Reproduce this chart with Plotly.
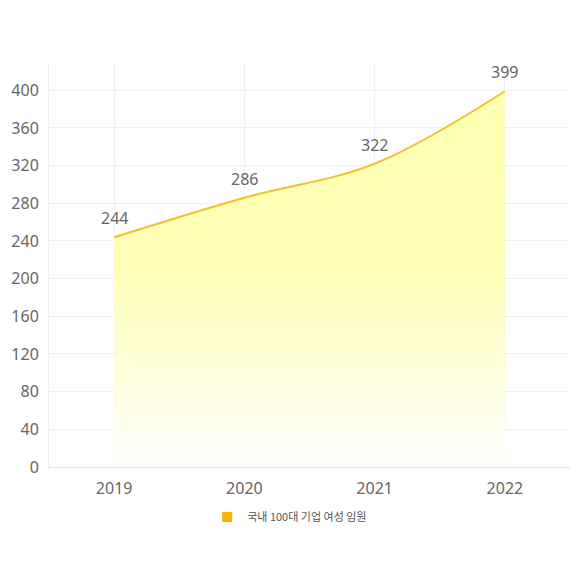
import plotly.graph_objects as go

years = ["2019", "2020", "2021", "2022"]
executives = [244, 286, 322, 399]
series_name = "국내 100대 기업 여성 임원"
y_ticks = [0, 40, 80, 120, 160, 200, 240, 280, 320, 360, 400]

fig = go.Figure()

fig.add_trace(go.Scatter(
    x=years, y=executives,
    mode="lines",
    line=dict(color="#f0c22a", width=2, shape="spline", smoothing=1),
    fill="tozeroy",
    fillgradient=dict(type="vertical",
                      colorscale=[[0, "rgba(255,255,255,0.9)"],
                                  [0.55, "rgba(255,255,170,0.85)"],
                                  [1, "rgba(255,255,165,0.85)"]]),
    showlegend=False,
))

# value labels above each point (category index used for x)
for i, v in enumerate(executives):
    fig.add_annotation(x=i, y=v, text=str(v), showarrow=False,
                       yanchor="bottom", yshift=6,
                       font=dict(size=16, color="#666666"))

# legend entry shown as a square swatch
fig.add_trace(go.Scatter(
    x=[None], y=[None], mode="markers", name=series_name,
    marker=dict(symbol="square", size=10, color="#f7b500"),
))

fig.update_layout(
    width=580, height=580,
    margin=dict(l=41, r=18, t=55, b=121),
    paper_bgcolor="white", plot_bgcolor="white",
    font=dict(family="Noto Sans, Noto Sans CJK KR", color="#666666"),
    legend=dict(orientation="h", x=0.462, xanchor="center", y=-0.124, yanchor="middle",
                font=dict(size=11, color="#555555", family="Noto Sans CJK KR")),
    xaxis=dict(
        type="category", range=[-0.5, 3.5],
        showgrid=True, gridcolor="#f0f0f0", gridwidth=1,
        showline=True, linecolor="#e0e0e0", linewidth=1,
        ticks="", tickfont=dict(size=16, color="#666666"),
        ticklabelstandoff=7, automargin=False,
        zeroline=False,
    ),
    yaxis=dict(
        range=[0, 429], tickvals=y_ticks,
        showgrid=True, gridcolor="#f0f0f0", gridwidth=1,
        showline=True, linecolor="#f0f0f0", linewidth=1,
        ticks="", tickfont=dict(size=16, color="#666666"),
        ticklabelstandoff=6, automargin=False,
        zeroline=False,
    ),
)

fig.write_html("out.html")
